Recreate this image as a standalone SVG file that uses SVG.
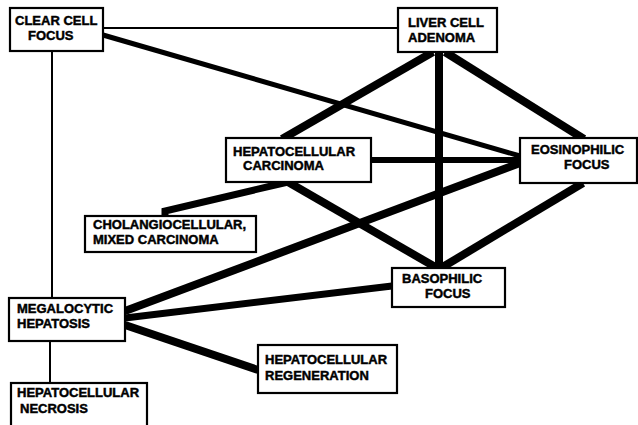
<svg xmlns="http://www.w3.org/2000/svg" width="638" height="425" viewBox="0 0 638 425">
<style>
.box{fill:#fff;stroke:#000;stroke-width:2.2}
.t{font-family:"Liberation Sans",Arial,Helvetica,sans-serif;font-weight:bold;font-size:13px;fill:#000;stroke:#000;stroke-width:0.45}
.c{fill:none;stroke:#000;stroke-linecap:butt;stroke-linejoin:miter}
.thin{stroke-width:2}
.med{stroke-width:5}
.thick{stroke-width:8}
</style>
<rect width="638" height="425" fill="#fff"/>
<g id="connectors">
<line class="c thin" x1="103" y1="28" x2="398" y2="28"/>
<line class="c med" x1="103" y1="35" x2="520" y2="156"/>
<line class="c thin" x1="52" y1="51" x2="52" y2="298"/>
<line class="c thin" x1="50" y1="341" x2="50" y2="383"/>
<line class="c thick" x1="433" y1="52" x2="282" y2="139"/>
<line class="c thick" x1="439" y1="52" x2="439" y2="268"/>
<line class="c thick" x1="445" y1="52" x2="584" y2="139"/>
<line class="c" stroke-width="6" x1="371" y1="160" x2="520" y2="160"/>
<polyline class="c" stroke-width="7" points="288,182 165,211 165,216"/>
<line class="c thick" x1="288" y1="182" x2="437" y2="268"/>
<line class="c thick" x1="583" y1="183" x2="441" y2="268"/>
<line class="c thick" x1="520" y1="163" x2="125" y2="311"/>
<line class="c" stroke-width="7" x1="125" y1="318" x2="392" y2="286"/>
<line class="c thick" x1="125" y1="325" x2="258" y2="370"/>
</g>
<g id="clear-cell-focus">
<rect class="box" x="10" y="8" width="93" height="43"/>
<text class="t" x="15" y="25">CLEAR CELL</text>
<text class="t" x="28" y="40">FOCUS</text>
</g>
<g id="liver-cell-adenoma">
<rect class="box" x="398" y="8" width="99" height="44"/>
<text class="t" x="408" y="27">LIVER CELL</text>
<text class="t" x="408" y="42">ADENOMA</text>
</g>
<g id="hepatocellular-carcinoma">
<rect class="box" x="226" y="138" width="145" height="44"/>
<text class="t" x="233" y="156">HEPATOCELLULAR</text>
<text class="t" x="243" y="170">CARCINOMA</text>
</g>
<g id="eosinophilic-focus">
<rect class="box" x="520" y="138" width="117" height="45"/>
<text class="t" x="531" y="154">EOSINOPHILIC</text>
<text class="t" x="564" y="169">FOCUS</text>
</g>
<g id="cholangiocellular">
<rect class="box" x="85" y="216" width="171" height="36"/>
<text class="t" x="93" y="229">CHOLANGIOCELLULAR,</text>
<text class="t" x="93" y="244">MIXED CARCINOMA</text>
</g>
<g id="basophilic-focus">
<rect class="box" x="392" y="268" width="113" height="39"/>
<text class="t" x="402" y="283">BASOPHILIC</text>
<text class="t" x="425" y="298">FOCUS</text>
</g>
<g id="megalocytic-hepatosis">
<rect class="box" x="9" y="298" width="116" height="43"/>
<text class="t" x="17" y="313">MEGALOCYTIC</text>
<text class="t" x="17" y="328">HEPATOSIS</text>
</g>
<g id="hepatocellular-regeneration">
<rect class="box" x="258" y="345" width="139" height="48"/>
<text class="t" x="265" y="364">HEPATOCELLULAR</text>
<text class="t" x="265" y="380">REGENERATION</text>
</g>
<g id="hepatocellular-necrosis">
<rect class="box" x="11" y="383" width="136" height="50"/>
<text class="t" x="17" y="397">HEPATOCELLULAR</text>
<text class="t" x="20" y="413">NECROSIS</text>
</g>
</svg>
